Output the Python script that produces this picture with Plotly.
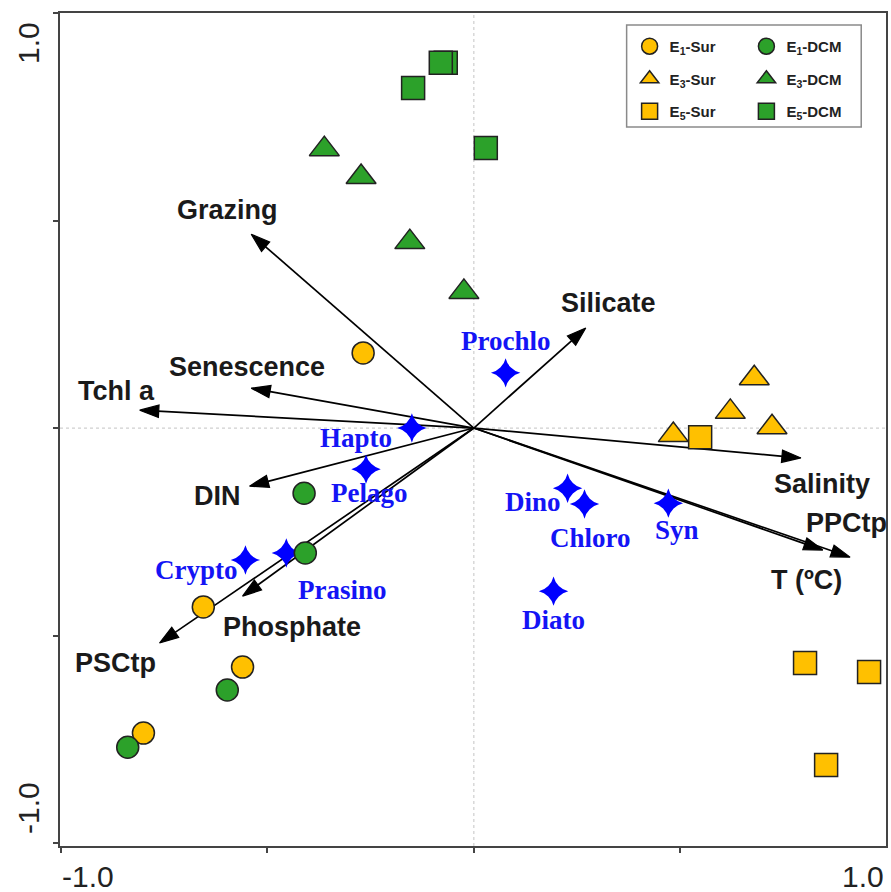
import plotly.graph_objects as go

# ---------------- data ----------------
species = ["Prochlo", "Hapto", "Pelago", "Dino", "Chloro", "Syn", "Crypto", "Prasino", "Diato"]
species_x = [0.077, -0.150, -0.261, 0.227, 0.268, 0.471, -0.553, -0.454, 0.193]
species_y = [0.133, 0.000, -0.099, -0.145, -0.183, -0.181, -0.318, -0.301, -0.393]

env_vars = ["Grazing", "Silicate", "Senescence", "Tchl a", "DIN", "Salinity",
            "T (ºC)", "PPCtp", "PSCtp", "Phosphate"]
env_x = [-0.539, 0.271, -0.539, -0.809, -0.543, 0.792, 0.845, 0.911, -0.761, -0.560]
env_y = [0.467, 0.241, 0.096, 0.043, -0.140, -0.072, -0.294, -0.311, -0.518, -0.405]

e1_sur_x = [-0.268, -0.655, -0.560, -0.800]
e1_sur_y = [0.181, -0.431, -0.576, -0.735]
e1_dcm_x = [-0.411, -0.408, -0.597, -0.838]
e1_dcm_y = [-0.157, -0.301, -0.631, -0.769]
e3_sur_x = [0.679, 0.621, 0.722, 0.483]
e3_sur_y = [0.120, 0.039, 0.002, -0.017]
e3_dcm_x = [-0.362, -0.273, -0.155, -0.024]
e3_dcm_y = [0.672, 0.605, 0.448, 0.328]
e5_sur_x = [0.548, 0.802, 0.957, 0.853]
e5_sur_y = [-0.022, -0.566, -0.588, -0.812]
e5_dcm_x = [-0.068, -0.080, -0.147, 0.029]
e5_dcm_y = [0.880, 0.880, 0.819, 0.675]

axis_tick_labels = ["-1.0", "1.0"]

# ---------------- styling ----------------
ORANGE = "#FFC000"
GREEN = "#2CA12A"
BLUE = "#0000FF"
SANS = "Liberation Sans, Arial, sans-serif"
SERIF = "Liberation Serif, Times New Roman, serif"

# label pixel offsets (xshift, yshift) for readability
species_shift = [(0, 32), (-56, -10), (3, -24), (-35, -14), (6, -34), (9, -27),
                 (-49, -10), (56, -37), (0, -29)]
env_shift = [(-24, 24), (23, 25), (-4, 21), (-23, 19), (-32, -10), (21, -26),
             (-16, -30), (-4, 34), (-44, -20), (49, -31)]

fig = go.Figure()

# environmental arrows (shaft + arrow head marker)
for name, x, y in zip(env_vars, env_x, env_y):
    fig.add_trace(go.Scatter(
        x=[0, x], y=[0, y], mode="lines+markers",
        line=dict(color="#000000", width=1.7),
        marker=dict(symbol=["circle", "arrow"], size=[0, 20], angleref="previous",
                    color="#000000", opacity=1, line=dict(width=1.2, color="#000000")),
        showlegend=False, hoverinfo="skip"))

# species
fig.add_trace(go.Scatter(
    x=species_x, y=species_y, mode="markers",
    marker=dict(symbol="star-diamond", size=21, color=BLUE, line=dict(width=0)),
    showlegend=False, text=species, hoverinfo="text"))

groups = [
    ("E<sub>1</sub>-Sur", e1_sur_x, e1_sur_y, "circle", ORANGE, 22, "legend"),
    ("E<sub>3</sub>-Sur", e3_sur_x, e3_sur_y, "triangle-up", ORANGE, 26, "legend"),
    ("E<sub>5</sub>-Sur", e5_sur_x, e5_sur_y, "square", ORANGE, 23, "legend"),
    ("E<sub>1</sub>-DCM", e1_dcm_x, e1_dcm_y, "circle", GREEN, 22, "legend2"),
    ("E<sub>3</sub>-DCM", e3_dcm_x, e3_dcm_y, "triangle-up", GREEN, 26, "legend2"),
    ("E<sub>5</sub>-DCM", e5_dcm_x, e5_dcm_y, "square", GREEN, 23, "legend2"),
]
for i, (name, xs, ys, sym, col, size, leg) in enumerate(groups):
    fig.add_trace(go.Scatter(
        x=xs, y=ys, mode="markers", name="<b>" + name + "</b>",
        marker=dict(symbol=sym, size=size, color=col, line=dict(color="#222222", width=1.5)),
        legend=leg, legendgroup="g%d" % i))

annotations = []
for name, x, y, (dx, dy) in zip(species, species_x, species_y, species_shift):
    annotations.append(dict(x=x, y=y, xref="x", yref="y", text="<b>" + name + "</b>",
                            showarrow=False, xshift=dx, yshift=dy,
                            font=dict(family=SERIF, size=27, color="#1414F5")))
for name, x, y, (dx, dy) in zip(env_vars, env_x, env_y, env_shift):
    annotations.append(dict(x=x, y=y, xref="x", yref="y", text="<b>" + name + "</b>",
                            showarrow=False, xshift=dx, yshift=dy,
                            font=dict(family=SANS, size=27, color="#1a1a1a")))

tick_font = dict(family=SANS, size=30, color="#222222")
annotations += [
    dict(x=0, y=0, xref="paper", yref="paper", text=axis_tick_labels[0], showarrow=False,
         xanchor="left", yanchor="middle", yshift=-30, font=tick_font),
    dict(x=1, y=0, xref="paper", yref="paper", text=axis_tick_labels[1], showarrow=False,
         xanchor="right", yanchor="middle", yshift=-30, font=tick_font),
    dict(x=0, y=1, xref="paper", yref="paper", text=axis_tick_labels[1], showarrow=False,
         textangle=-90, xanchor="center", yanchor="middle", xshift=-32, yshift=-30, font=tick_font),
    dict(x=0, y=0, xref="paper", yref="paper", text=axis_tick_labels[0], showarrow=False,
         textangle=-90, xanchor="center", yanchor="middle", xshift=-32, yshift=38, font=tick_font),
]

shapes = [
    dict(type="line", xref="x", yref="paper", x0=0, x1=0, y0=0, y1=1,
         line=dict(color="#cfcfcf", width=1.2, dash="dot"), layer="below"),
    dict(type="line", xref="paper", yref="y", x0=0, x1=1, y0=0, y1=0,
         line=dict(color="#cfcfcf", width=1.2, dash="dot"), layer="below"),
    dict(type="rect", xref="paper", yref="paper", x0=0.686, x1=0.970, y0=0.863, y1=0.9856,
         line=dict(color="#8a8a8a", width=1.5), fillcolor="rgba(0,0,0,0)", layer="above"),
]

legend_common = dict(font=dict(family=SANS, size=15, color="#222222"),
                     bgcolor="rgba(0,0,0,0)", borderwidth=0, yanchor="top",
                     xanchor="left", traceorder="grouped", tracegroupgap=10,
                     itemsizing="trace")

fig.update_layout(
    width=891, height=892,
    margin=dict(l=60, r=3, t=13, b=46),
    paper_bgcolor="white", plot_bgcolor="white",
    xaxis=dict(range=[-1.002, 0.998], showgrid=False, zeroline=False,
               showline=True, mirror=True, linecolor="#444444", linewidth=2,
               tickvals=[-1, -0.5, 0, 0.5, 1], ticks="outside", ticklen=5,
               tickcolor="#444444", tickwidth=1.5, showticklabels=False),
    yaxis=dict(range=[-1.007, 1.0], showgrid=False, zeroline=False,
               showline=True, mirror=True, linecolor="#444444", linewidth=2,
               tickvals=[-1, -0.5, 0, 0.5, 1], ticks="outside", ticklen=5,
               tickcolor="#444444", tickwidth=1.5, showticklabels=False),
    legend=dict(x=0.6896, y=0.9796, **legend_common),
    legend2=dict(x=0.831, y=0.9796, **legend_common),
    annotations=annotations,
    shapes=shapes,
    showlegend=True,
)

fig.write_html("out.html")
